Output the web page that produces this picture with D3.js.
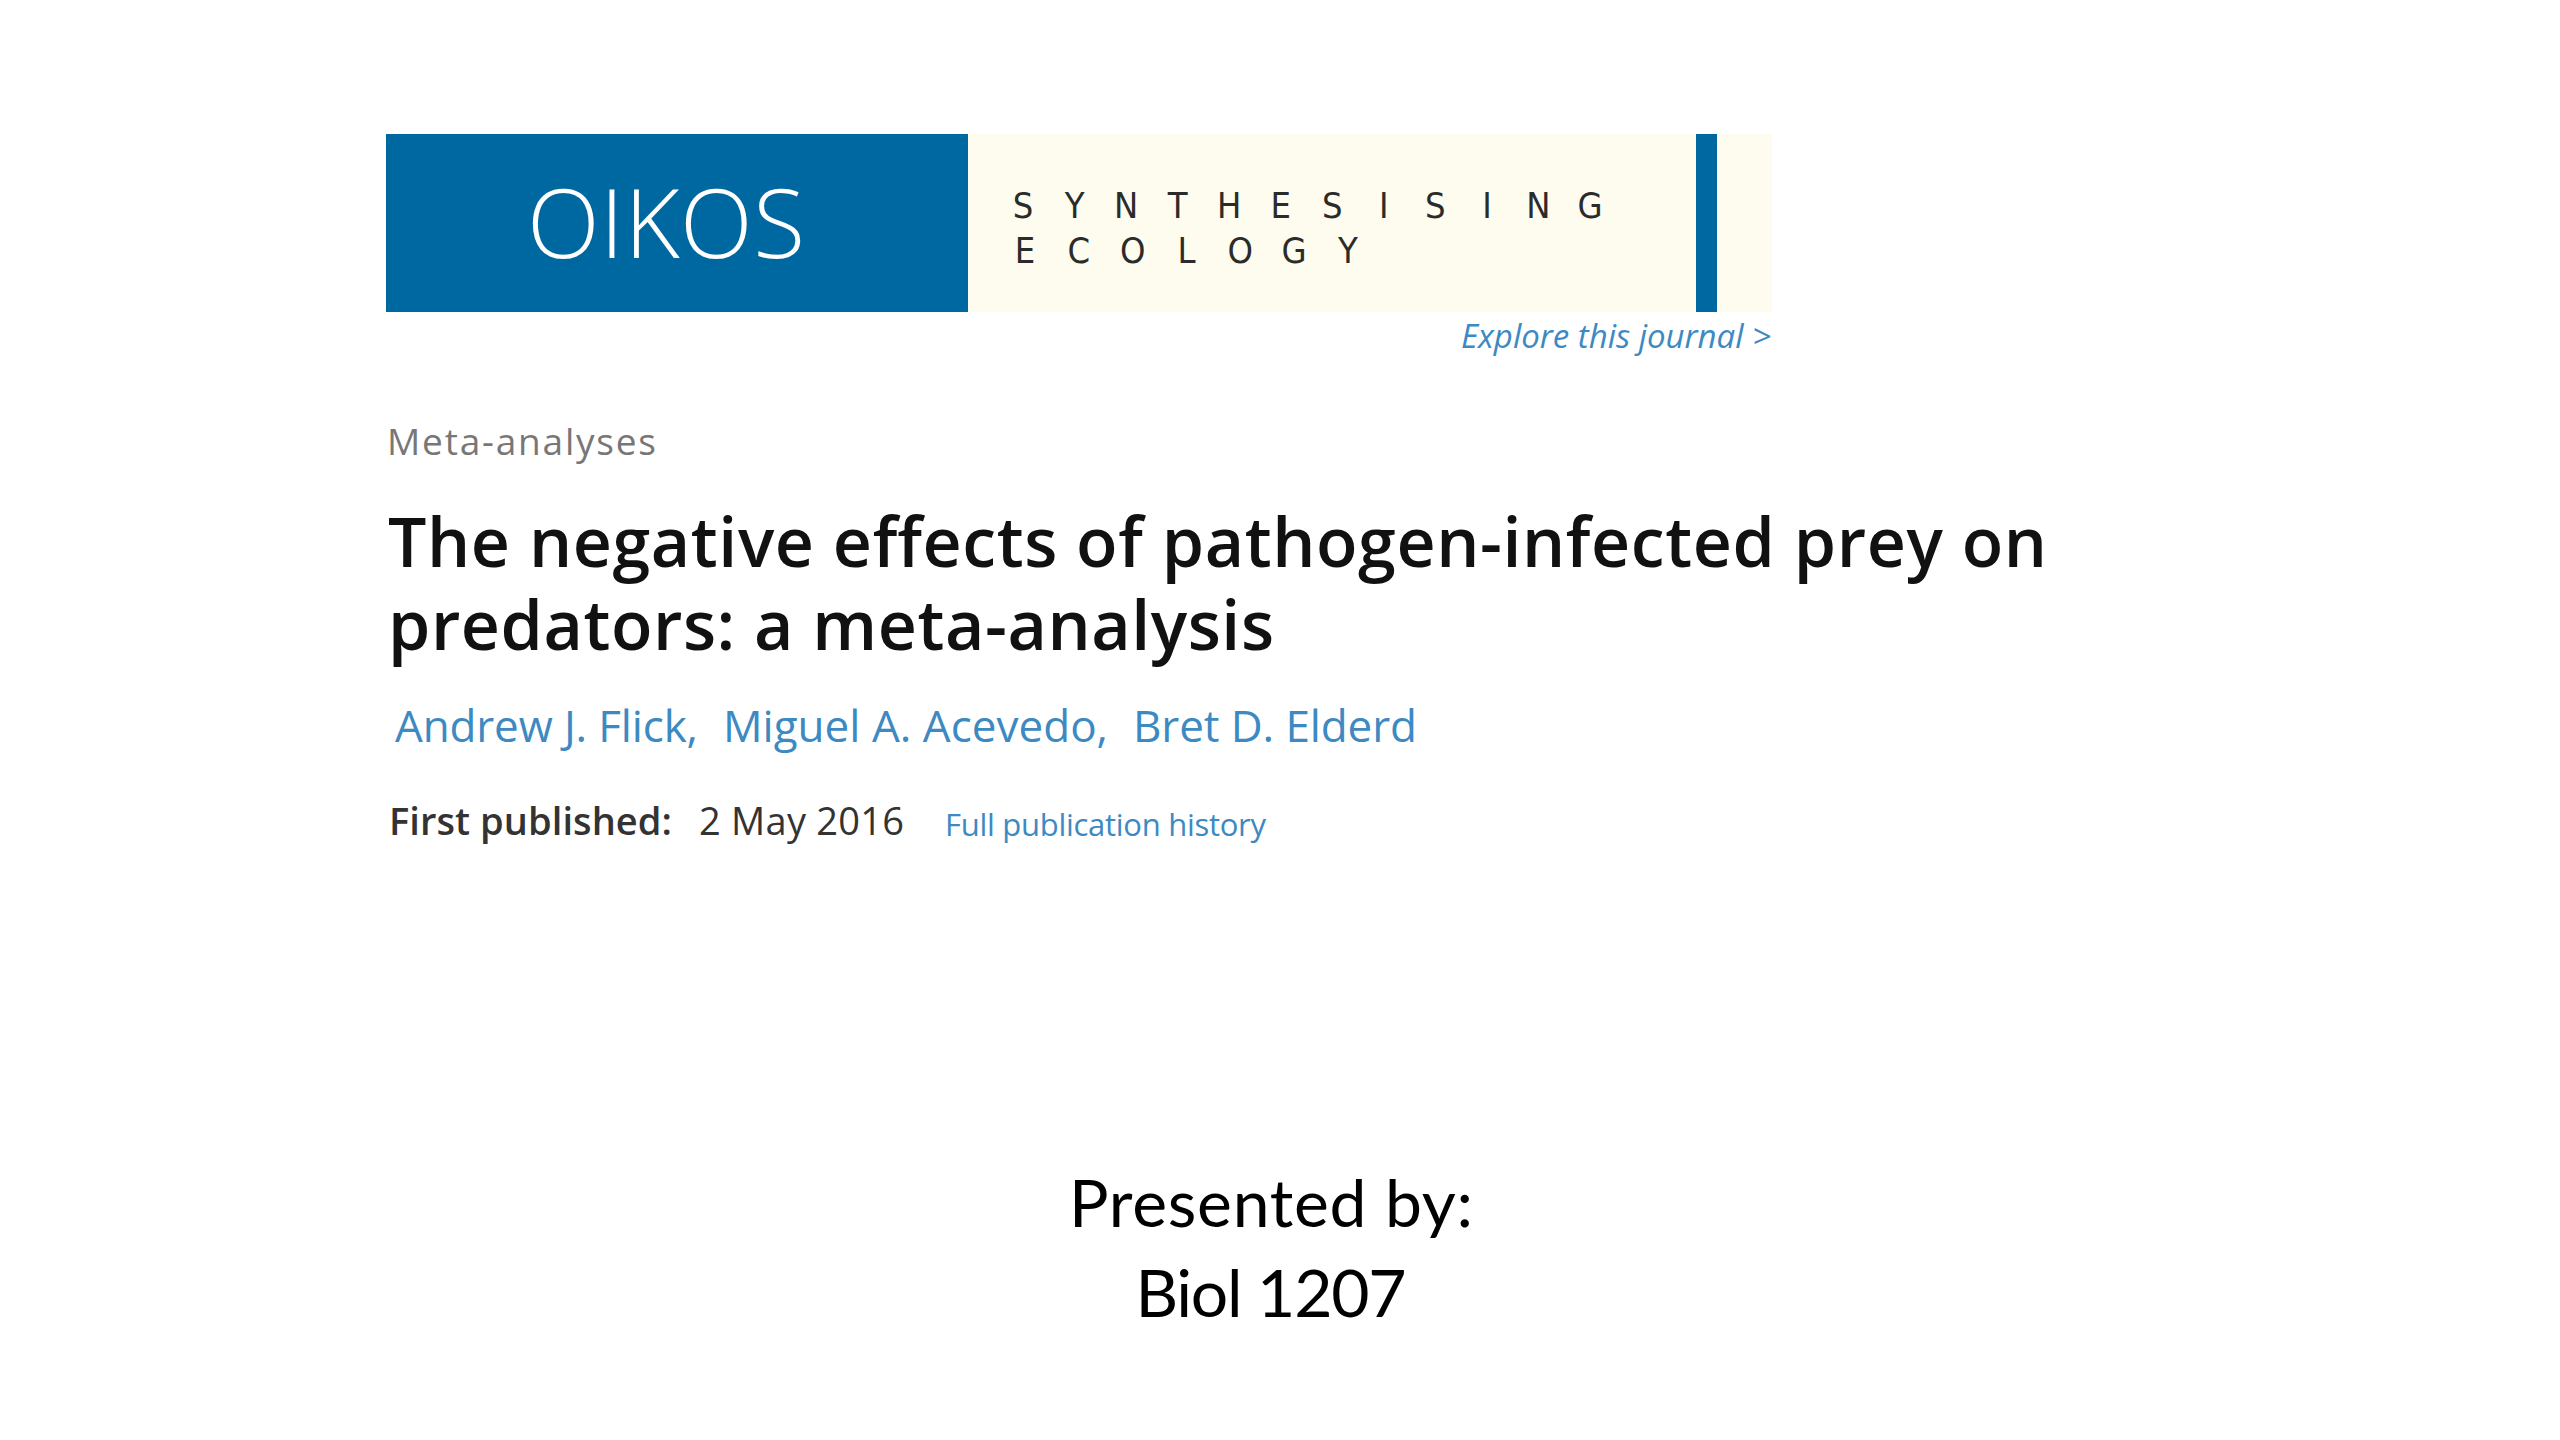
<!DOCTYPE html>
<html>
<head>
<meta charset="utf-8">
<script src="https://cdn.jsdelivr.net/npm/d3@7"></script>
<style>
  html, body { margin: 0; padding: 0; background: #fff; }
  svg { display: block; }
</style>
</head>
<body>
<div id="slide"></div>
<script>
// slide content
const journalName = 'OIKOS';
const taglineRows = ['SYNTHESISING', 'ECOLOGY'];
const sectionLabel = 'Meta-analyses';
const titleLines = [
  'The negative effects of pathogen-infected prey on',
  'predators: a meta-analysis'
];
const authors = ['Andrew J. Flick,', 'Miguel A. Acevedo,', 'Bret D. Elderd'];
const publishedLabel = 'First published:';
const publishedDate = '2 May 2016';
const historyLink = 'Full publication history';
const exploreLink = 'Explore this journal >';
const presenterLines = ['Presented by:', 'Biol 1207'];

const width = 2560;
const height = 1440;
const blue = '#0068a1';
const linkBlue = '#3d89c2';

const svg = d3.select('#slide')
  .append('svg')
  .attr('width', width)
  .attr('height', height)
  .attr('viewBox', `0 0 ${width} ${height}`);

// banner
const banner = svg.append('g').attr('class', 'banner');

banner.append('rect')
  .attr('x', 968).attr('y', 134)
  .attr('width', 804).attr('height', 178)
  .attr('fill', '#fdfcee');

banner.append('rect')
  .attr('x', 386).attr('y', 134)
  .attr('width', 582).attr('height', 178)
  .attr('fill', blue);

banner.append('rect')
  .attr('x', 1696).attr('y', 134)
  .attr('width', 21).attr('height', 178)
  .attr('fill', blue);

banner.append('text')
  .attr('x', 527).attr('y', 258)
  .attr('font-family', 'Open Sans')
  .attr('font-weight', 300)
  .attr('font-size', 95)
  .attr('fill', '#fff')
  .attr('textLength', 278)
  .attr('lengthAdjust', 'spacing')
  .text(journalName);

// tagline, one letter per slot
const rowSpans = [[1023, 1590], [1025, 1348]];

banner.selectAll('g.tag-row')
  .data(taglineRows)
  .join('g')
  .attr('class', 'tag-row')
  .attr('transform', (d, i) => `translate(0,${218 + i * 45})`)
  .each(function (row, r) {
    const letterX = d3.scaleLinear().domain([0, row.length - 1]).range(rowSpans[r]);
    d3.select(this)
      .selectAll('text')
      .data(row.split(''))
      .join('text')
      .attr('x', (d, i) => letterX(i))
      .attr('text-anchor', 'middle')
      .attr('font-family', 'DejaVu Sans Condensed, Open Sans')
      .attr('font-weight', 300)
      .attr('font-size', 36)
      .attr('fill', '#2b2b2b')
      .text(d => d);
  });

svg.append('text')
  .attr('x', 1771).attr('y', 348)
  .attr('text-anchor', 'end')
  .attr('font-family', 'Open Sans')
  .attr('font-style', 'italic')
  .attr('font-size', 33)
  .attr('fill', linkBlue)
  .attr('textLength', 310)
  .attr('lengthAdjust', 'spacing')
  .text(exploreLink);

// article header
svg.append('text')
  .attr('x', 387).attr('y', 455)
  .attr('font-family', 'Open Sans')
  .attr('font-size', 37)
  .attr('fill', '#777')
  .attr('textLength', 269)
  .attr('lengthAdjust', 'spacing')
  .text(sectionLabel);

const titleWidths = [1659, 886];

svg.append('g')
  .selectAll('text')
  .data(titleLines)
  .join('text')
  .attr('x', 388)
  .attr('y', (d, i) => 567 + i * 83)
  .attr('font-family', 'Open Sans')
  .attr('font-weight', 600)
  .attr('font-size', 68)
  .attr('fill', '#111')
  .attr('textLength', (d, i) => titleWidths[i])
  .attr('lengthAdjust', 'spacing')
  .text(d => d);

const authorX = [395, 723, 1133];
const authorW = [303, 385, 284];

svg.append('g')
  .selectAll('text')
  .data(authors)
  .join('text')
  .attr('x', (d, i) => authorX[i])
  .attr('y', 742)
  .attr('font-family', 'Open Sans')
  .attr('font-size', 44)
  .attr('fill', linkBlue)
  .attr('textLength', (d, i) => authorW[i])
  .attr('lengthAdjust', 'spacing')
  .text(d => d);

const pub = svg.append('g').attr('font-family', 'Open Sans');

pub.append('text')
  .attr('x', 389).attr('y', 835)
  .attr('font-size', 38)
  .attr('font-weight', 600)
  .attr('fill', '#333')
  .attr('textLength', 283)
  .attr('lengthAdjust', 'spacing')
  .text(publishedLabel);

pub.append('text')
  .attr('x', 699).attr('y', 835)
  .attr('font-size', 38)
  .attr('fill', '#333')
  .attr('textLength', 205)
  .attr('lengthAdjust', 'spacing')
  .text(publishedDate);

pub.append('text')
  .attr('x', 945).attr('y', 836)
  .attr('font-size', 31)
  .attr('fill', linkBlue)
  .attr('textLength', 321)
  .attr('lengthAdjust', 'spacing')
  .text(historyLink);

// presenter
const presenterW = [404, 271];

svg.append('g')
  .selectAll('text')
  .data(presenterLines)
  .join('text')
  .attr('x', 1271)
  .attr('y', (d, i) => 1227 + i * 90)
  .attr('text-anchor', 'middle')
  .attr('font-family', 'Lato, Open Sans')
  .attr('font-size', 66)
  .attr('fill', '#000')
  .attr('textLength', (d, i) => presenterW[i])
  .attr('lengthAdjust', 'spacing')
  .text(d => d);
</script>
</body>
</html>
